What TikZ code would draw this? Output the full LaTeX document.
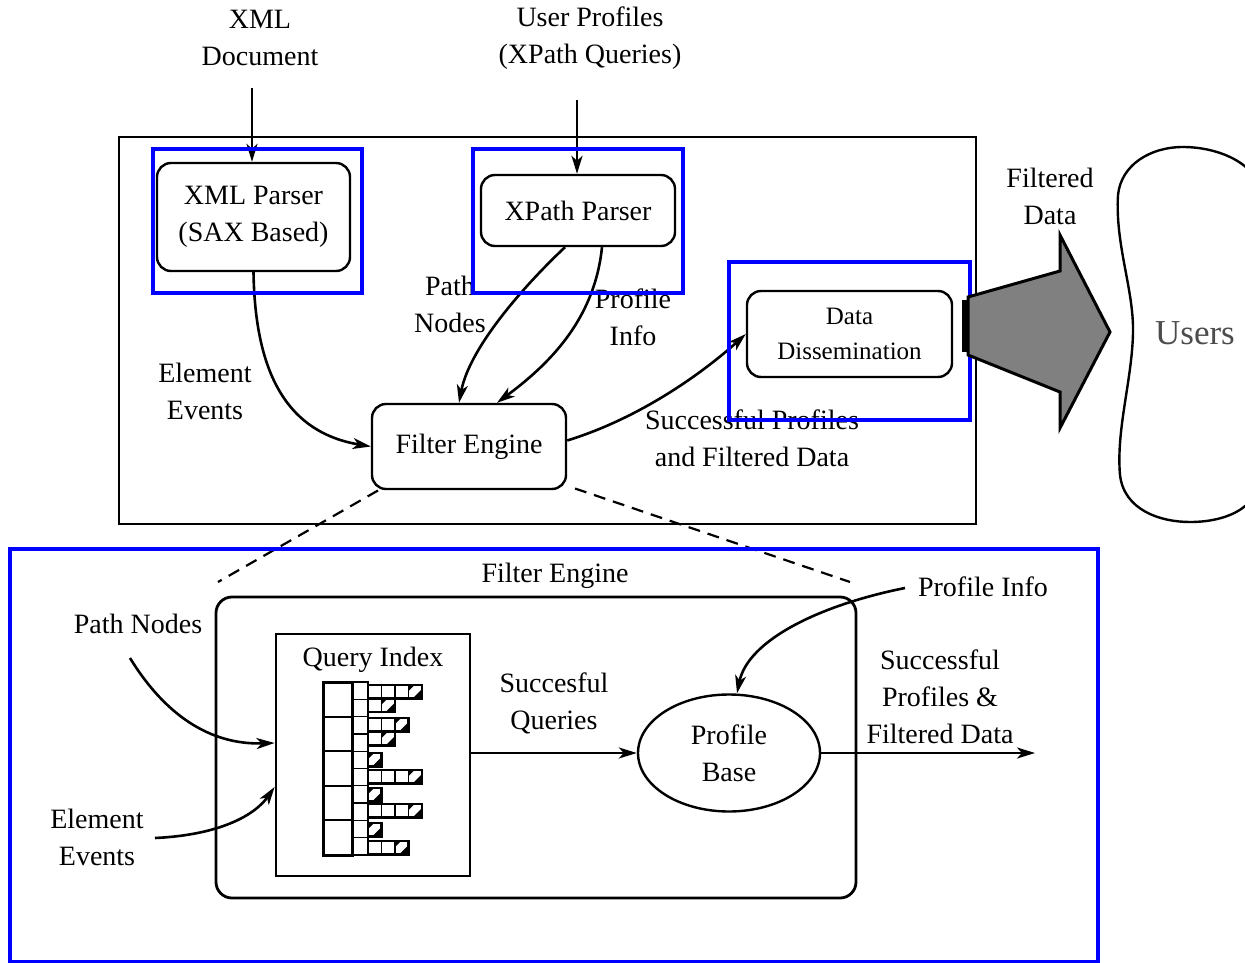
\documentclass[tikz,border=0pt]{standalone}
\usepackage{fontspec}
\setmainfont{Liberation Serif}
\usetikzlibrary{arrows.meta,shapes.geometric,calc}
\begin{document}
\begin{tikzpicture}[x=1pt,y=-1pt,
  every node/.style={font=\fontsize{28}{37}\selectfont, inner sep=0pt, align=center},
  rbox/.style={draw, line width=2.4pt, rounded corners=14pt},
  bluebox/.style={draw=blue, line width=4.5pt},
  arr/.style={line width=2.6pt, -{Stealth[length=18pt,width=11pt,inset=5pt]}},
  dashl/.style={line width=2.2pt, dash pattern=on 12pt off 8pt},
  small/.style={font=\fontsize{25}{35}\selectfont},
]
\useasboundingbox (0,0) rectangle (1245,963);
\clip (0,0) rectangle (1245,963);

% ---------- top part ----------
\node (xmldoc) at (260,38) {XML\\Document};
\node (userprof) at (590,38) {User Profiles\\(XPath Queries)};

\draw[line width=2.4pt] (119,137) rectangle (976,524);

\node[rbox, minimum width=193pt, minimum height=108pt] (xmlp) at (253.5,217) {XML Parser\\(SAX Based)};
\node[rbox, minimum width=194pt, minimum height=71pt] (xpathp) at (578,210.5) {XPath Parser};
\node[rbox, small, minimum width=205pt, minimum height=86pt] (dd) at (849.5,334) {Data\\Dissemination};
\node[rbox, minimum width=194pt, minimum height=85pt] (fe) at (469,446.5) {Filter Engine};

\coordinate (xin) at (252,88);
\coordinate (uin) at (577,100);
\draw[arr] (xin) -- (xin |- xmlp.north);
\draw[arr] (uin) -- (uin |- xpathp.north);

\node (lee) at (205,391) {Element\\Events};
\node (lpn) at (450,304) {Path\\Nodes};
\node (lpi) at (633,317) {Profile\\Info};
\node (lsp) at (752,438) {Successful Profiles\\and Filtered Data};

\draw[arr] (xmlp.south) .. controls (255,370) and (285,432) .. (fe.west);
\draw[arr] ([xshift=-13pt]xpathp.south) .. controls (530,280) and (470,345) .. ([xshift=-10pt]fe.north);
\draw[arr] ([xshift=24pt]xpathp.south) .. controls (595,315) and (555,360) .. ([xshift=28pt]fe.north);
\draw[arr] ([yshift=6pt]fe.east) .. controls (650,415) and (715,362) .. (dd.west);

% blue boxes
\draw[bluebox] (153,149) rectangle (362,293);
\draw[bluebox] (473,149) rectangle (683,293);
\draw[bluebox] (729,262) rectangle (970,420);

% big gray arrow
\draw[line width=3pt, fill=gray, line join=miter] (968,297) -- (1060,271) -- (1060,235) -- (1110,332) -- (1060,428) -- (1060,392) -- (968,355) -- cycle;
\draw[line width=6pt] (965,300) -- (965,352);
\node (fd) at (1050,196) {Filtered\\Data};

% users blob
\draw[line width=2.4pt] (1183,147) .. controls (1150,147) and (1121,165) .. (1118,195)
  .. controls (1115,245) and (1134,290) .. (1133,333)
  .. controls (1132,380) and (1116,430) .. (1120,475)
  .. controls (1124,510) and (1160,522) .. (1190,522)
  .. controls (1230,522) and (1262,505) .. (1262,470)
  -- (1262,200) .. controls (1262,165) and (1220,147) .. cycle;
\node[text=gray!60!black, font=\fontsize{35}{40}\selectfont] (users) at (1195,333) {Users};

% dashed zoom lines
\coordinate (dl) at (218,582);
\coordinate (dr) at (850,582);
\draw[dashl] ([xshift=-91pt,yshift=-44pt]fe.center) -- (dl);
\draw[dashl] ([xshift=106pt,yshift=-42pt]fe.center) -- (dr);

% ---------- bottom part ----------
\draw[bluebox] (10,549) rectangle (1098,962);
\node (fetitle) at (555,576) {Filter Engine};
\node[draw, line width=2.8pt, rounded corners=16pt, minimum width=640pt, minimum height=301pt] (febig) at (536,747.5) {};
\node[draw, line width=2.8pt, minimum width=194pt, minimum height=242pt] (qi) at (373,755) {};
\node (qititle) at (373,660) {Query Index};

% index structure
\draw[line width=3pt] (323,682) rectangle (352,855);
\foreach \i in {1,...,4} \draw[line width=2pt] (323,{682+34.6*\i}) -- (352,{682+34.6*\i});
\foreach \i in {0,...,9} \draw[line width=1.3pt] (352,{682+17.3*\i}) rectangle (368,{682+17.3*(\i+1)});
\foreach \yy/\n in {685/4, 698.5/2, 718/3, 732/2, 753/1, 770/4, 788/1, 804/4, 823/1, 841/3}{
  \foreach \k in {1,...,\n}{
    \draw[line width=1.2pt] ({368+13.5*(\k-1)},\yy) rectangle ({368+13.5*\k},\yy+13.5);
  }
  \fill ({368+13.5*(\n-1)+4},\yy+13.5) -- ({368+13.5*\n},\yy+13.5) -- ({368+13.5*\n},\yy+4) -- cycle;
  \fill ({368+13.5*(\n-1)},\yy) -- ({368+13.5*(\n-1)+6},\yy) -- ({368+13.5*(\n-1)},\yy+6) -- cycle;
  \draw[line width=2.5pt] (368,\yy) rectangle ({368+13.5*\n},\yy+13.5);
}

\node[draw, ellipse, line width=2.4pt, minimum width=182pt, minimum height=117pt] (pb) at (729,753) {Profile\\Base};

\node (lsq) at (554,703) {Succesful\\Queries};
\draw[arr] (qi.east |- pb.west) -- (pb.west);

\coordinate (outend) at (1035,753);
\draw[arr] (pb.east) -- (outend);
\node (lspf) at (940,697) {Successful\\Profiles \&\\Filtered Data};

\node (lpi2) at (983,587) {Profile Info};
\coordinate (pistart) at (905,588);
\draw[arr] (pistart) .. controls (820,605) and (748,640) .. ([xshift=8pt]pb.north);

\node (lpn2) at (138,624) {Path Nodes};
\coordinate (pnstart) at (130,658);
\draw[arr] (pnstart) .. controls (165,715) and (210,745) .. ([yshift=12pt]qi.west);

\node (lee2) at (97,837) {Element\\Events};
\coordinate (eestart) at (155,838);
\draw[arr] (eestart) .. controls (220,835) and (255,815) .. ([yshift=-32pt]qi.west);
\end{tikzpicture}
\end{document}
